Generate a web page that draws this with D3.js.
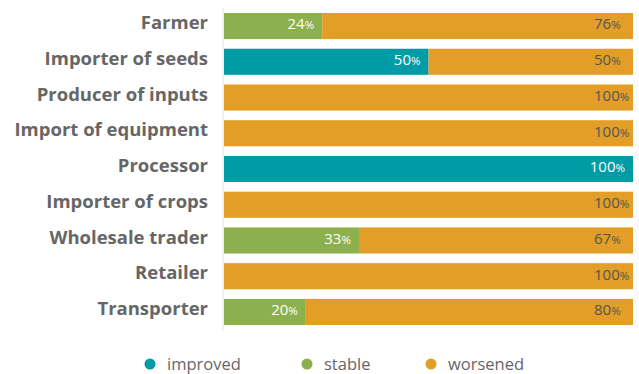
<!DOCTYPE html>
<html><head><meta charset="utf-8">
<script src="https://cdn.jsdelivr.net/npm/d3@7"></script>
<style>
body{margin:0;background:#fff;}
svg{display:block;font-family:"Open Sans",sans-serif;}
</style></head>
<body><svg id="chart" width="639" height="374"></svg>
<script>
const categories = ["Farmer","Importer of seeds","Producer of inputs","Import of equipment","Processor","Importer of crops","Wholesale trader","Retailer","Transporter"];
const improved = [0,50,0,0,100,0,0,0,0];
const stable   = [24,0,0,0,0,0,33,0,20];
const worsened = [76,50,100,100,0,100,67,100,80];
const seriesNames = ["improved","stable","worsened"];
const colors = {improved:"#009ca6", stable:"#8db04e", worsened:"#e29e26"};
const textColors = {improved:"#ffffff", stable:"#ffffff", worsened:"#555555"};

const svg = d3.select("#chart");
const rows = categories.map((c,i)=>({cat:c, improved:improved[i], stable:stable[i], worsened:worsened[i]}));
const stack = d3.stack().keys(seriesNames)(rows);

const x = d3.scaleLinear().domain([0,100]).range([224,633]);
const y = d3.scaleBand().domain(categories).range([13,325]).paddingInner(0.27).paddingOuter(0);

// axis line
svg.append("line").attr("x1",223).attr("x2",223).attr("y1",8).attr("y2",331)
  .attr("stroke","#e8e8e8").attr("stroke-width",1.2);

const layers = svg.selectAll("g.layer").data(stack).enter().append("g").attr("class","layer");
layers.selectAll("rect").data(d=>d.map(v=>({key:d.key, v0:v[0], v1:v[1], cat:v.data.cat})))
  .enter().filter(d=>d.v1-d.v0>0).append("rect")
  .attr("x",d=>x(d.v0)).attr("width",d=>x(d.v1)-x(d.v0))
  .attr("y",d=>y(d.cat)).attr("height",y.bandwidth())
  .attr("fill",d=>colors[d.key]);

layers.selectAll("text").data(d=>d.map(v=>({key:d.key, v0:v[0], v1:v[1], cat:v.data.cat})))
  .enter().filter(d=>d.v1-d.v0>0).append("text")
  .attr("x",d=>d.key==="worsened" ? x(d.v1)-39 : x(d.v1)-8)
  .attr("y",d=>y(d.cat)+y.bandwidth()/2)
  .attr("dy","0.23em").attr("text-anchor",d=>d.key==="worsened"?"start":"end")
  .attr("fill",d=>textColors[d.key])
  .style("font-size","15px")
  .each(function(d){
    const t=d3.select(this);
    t.append("tspan").text(Math.round(d.v1-d.v0));
    t.append("tspan").text("%").style("font-size","11.5px");
  });

// category labels
const yAxis = d3.axisLeft(y).tickSize(0).tickPadding(0);
const ga = svg.append("g").attr("transform","translate(208,0)").call(yAxis);
ga.select(".domain").remove();
ga.selectAll("text").attr("fill","#666").attr("dy","0.17em").style("font-size","18.5px").style("font-weight","700")
  .style("font-family","'Open Sans',sans-serif");

// legend
const legendX = [150,307,431];
const lg = svg.append("g");
seriesNames.forEach((s,i)=>{
  lg.append("circle").attr("cx",legendX[i]).attr("cy",364).attr("r",5.5).attr("fill",colors[s]);
  lg.append("text").attr("x",legendX[i]+17).attr("y",364).attr("dy","0.35em")
    .attr("fill","#666").style("font-size","16.5px").text(s);
});
</script></body></html>
